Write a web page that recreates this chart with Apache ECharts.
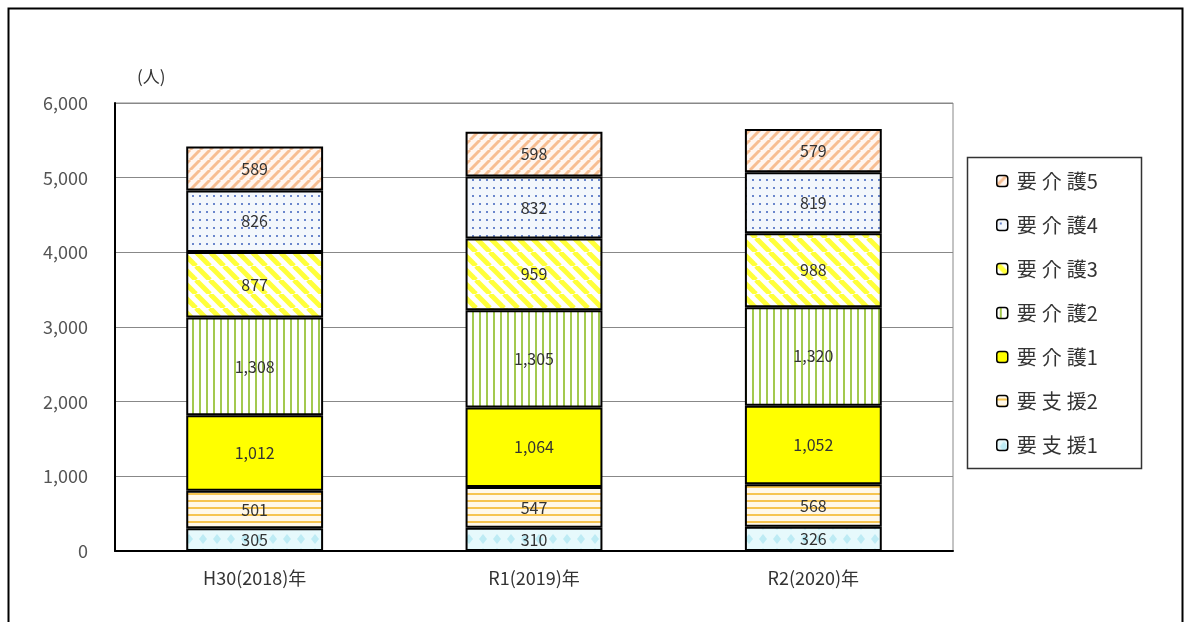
<!DOCTYPE html>
<html><head><meta charset="utf-8">
<script src="https://cdn.jsdelivr.net/npm/echarts@6/dist/echarts.min.js"></script>
<style>html,body{margin:0;padding:0;background:#fff}#c{width:1184px;height:622px}</style>
</head><body><div id="c"></div>
<script>
const categories = ['H30(2018)年', 'R1(2019)年', 'R2(2020)年'];
const seriesNames = ['要支援1', '要支援2', '要介護1', '要介護2', '要介護3', '要介護4', '要介護5'];
const shien1 = [305, 310, 326];
const shien2 = [501, 547, 568];
const kaigo1 = [1012, 1064, 1052];
const kaigo2 = [1308, 1305, 1320];
const kaigo3 = [877, 959, 988];
const kaigo4 = [826, 832, 819];
const kaigo5 = [589, 598, 579];
const yTicks = [0, 1000, 2000, 3000, 4000, 5000, 6000];

const FONT = '"Noto Sans CJK JP", "Noto Sans", sans-serif';

function tile(w, h, draw) {
  const c = document.createElement('canvas');
  c.width = w; c.height = h;
  const g = c.getContext('2d');
  draw(g, w, h);
  return { image: c, repeat: 'repeat' };
}
function diag(s, bg, fg, lw, dir) {
  return tile(s, s, (g) => {
    g.fillStyle = bg; g.fillRect(0, 0, s, s);
    g.strokeStyle = fg; g.lineWidth = lw;
    for (let k = -1; k <= 1; k++) {
      g.beginPath();
      if (dir > 0) { g.moveTo(k * s, s); g.lineTo(k * s + s, 0); }
      else { g.moveTo(k * s, 0); g.lineTo(k * s + s, s); }
      g.stroke();
    }
  });
}
const patterns = [
  tile(14, 14, (g) => { // 要支援1
    g.fillStyle = '#e6f9fc'; g.fillRect(0, 0, 14, 14);
    g.fillStyle = '#bdebf4';
    g.beginPath(); g.moveTo(7, 2); g.lineTo(11, 7); g.lineTo(7, 12); g.lineTo(3, 7); g.closePath(); g.fill();
  }),
  tile(8, 7, (g) => { // 要支援2
    g.fillStyle = '#fff8ea'; g.fillRect(0, 0, 8, 7);
    g.fillStyle = '#f6c451'; g.fillRect(0, 3, 8, 2);
  }),
  '#ffff00',
  tile(7, 8, (g) => { // 要介護2
    g.fillStyle = '#ffffff'; g.fillRect(0, 0, 7, 8);
    g.fillStyle = '#a3c94f'; g.fillRect(3, 0, 2, 8);
  }),
  diag(14, '#ffffff', '#ffff3a', 5, -1), // 要介護3
  tile(7, 8, (g) => { // 要介護4
    g.fillStyle = '#f3f7fc'; g.fillRect(0, 0, 7, 8);
    g.fillStyle = '#6a86cc'; g.fillRect(3, 3, 2, 2);
  }),
  diag(10, '#fff6f0', '#f7be92', 3, 1) // 要介護5
];
const datasets = [shien1, shien2, kaigo1, kaigo2, kaigo3, kaigo4, kaigo5];

const chart = echarts.init(document.getElementById('c'));
chart.setOption({
  animation: false,
  textStyle: { fontFamily: FONT },
  grid: { left: 115, right: 231, top: 103, bottom: 71, show: true, borderColor: '#888', borderWidth: 1 },
  graphic: [
    { type: 'rect', shape: { x: 8.5, y: 8.5, width: 1174, height: 640 }, style: { fill: 'none', stroke: '#000', lineWidth: 2 } },
    { type: 'rect', shape: { x: 967.5, y: 157.5, width: 174, height: 311 }, style: { fill: 'none', stroke: '#333', lineWidth: 1.5 } },
    { type: 'text', left: 137, top: 68, style: { text: '(人)', font: '17px ' + FONT, fill: '#333' } }
  ],
  legend: {
    orient: 'vertical', left: 996, top: 171, padding: 0,
    itemGap: 24, itemWidth: 11, itemHeight: 11,
    data: seriesNames.slice().reverse(),
    formatter: (n) => n.replace(/([\u4e00-\u9fff])(?=[\u4e00-\u9fff])/g, '$1\u2005'),
    textStyle: { fontSize: 20, color: '#333', fontFamily: FONT, padding: [0, 0, 0, 4] },
    itemStyle: { borderColor: '#000', borderWidth: 1.5 }
  },
  xAxis: {
    type: 'category', data: categories,
    axisLine: { lineStyle: { color: '#000', width: 2 } },
    axisTick: { inside: true, length: 5, lineStyle: { color: '#000' } },
    axisLabel: { fontSize: 18, color: '#333', margin: 18, fontFamily: FONT }
  },
  yAxis: {
    type: 'value', min: 0, max: 6000, interval: 1000,
    axisLine: { show: true, lineStyle: { color: '#000', width: 2 } },
    axisTick: { show: false },
    splitLine: { lineStyle: { color: '#888', width: 1 } },
    axisLabel: { fontSize: 18, color: '#555', margin: 27, fontFamily: FONT,
      formatter: (v) => yTicks.includes(v) ? v.toLocaleString('en-US') : '' }
  },
  series: seriesNames.map((n, i) => ({
    name: n, type: 'bar', stack: 'total', data: datasets[i], barWidth: '49%',
    itemStyle: { color: patterns[i], borderColor: '#000', borderWidth: 2 },
    label: { show: true, position: 'inside', fontSize: 16, color: '#333', fontFamily: FONT,
      formatter: (p) => p.value.toLocaleString('en-US') }
  }))
});
</script></body></html>
